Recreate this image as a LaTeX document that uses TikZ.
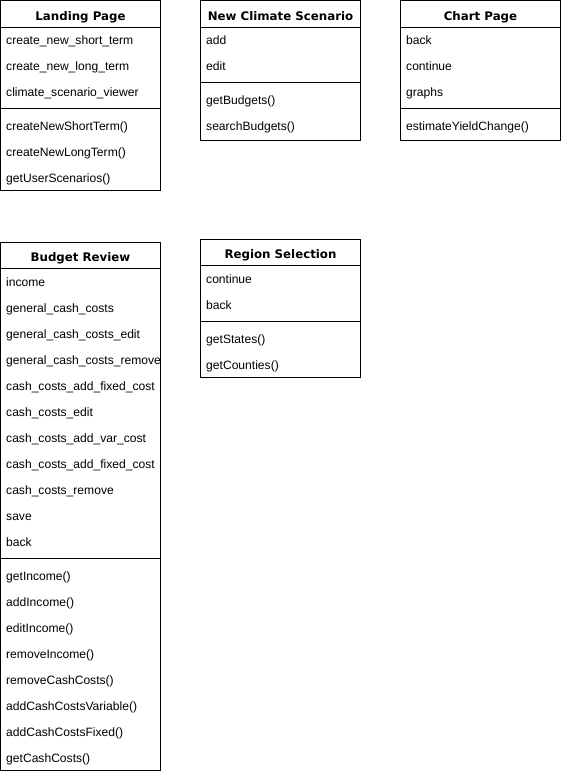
\documentclass[tikz,border=0pt]{standalone}
\usepackage{fontspec}
\setmainfont{Liberation Sans}
\newfontfamily\titlefont{DejaVu Sans}
\begin{document}
\begin{tikzpicture}[x=1pt,y=-1pt,
  box/.style={draw=black,line width=1pt,fill=white,anchor=north west,minimum width=160pt,inner sep=0pt,outer sep=0pt},
  sep/.style={line width=1pt},
  txt/.style={anchor=base west,inner sep=0pt,font=\fontsize{12.1}{14}\selectfont},
  ttl/.style={anchor=base,inner sep=0pt,font=\titlefont\bfseries\fontsize{11.8}{14}\selectfont}]
\useasboundingbox (0,0) rectangle (561,774);
% Landing Page
\node[box,minimum height=190pt] (lp) at (0.5,0.5) {};
\draw[sep] (0.5,27) coordinate (lpa) -- (160.5,27) coordinate (lpb);
\draw[sep] (0.5,108) coordinate (lpc) -- (160.5,108) coordinate (lpd);
\node[ttl] (lpt) at (80.5,20) {Landing Page};
\node[txt] (lp1) at (6,44.5) {create\_new\_short\_term};
\node[txt] (lp2) at (6,70.5) {create\_new\_long\_term};
\node[txt] (lp3) at (6,96.5) {climate\_scenario\_viewer};
\node[txt] (lp4) at (6,130.5) {createNewShortTerm()};
\node[txt] (lp5) at (6,156.5) {createNewLongTerm()};
\node[txt] (lp6) at (6,182.5) {getUserScenarios()};
% New Climate Scenario
\node[box,minimum height=140pt] (nc) at (200.5,0.5) {};
\draw[sep] (200.5,27) coordinate (nca) -- (360.5,27) coordinate (ncb);
\draw[sep] (200.5,82) coordinate (ncc) -- (360.5,82) coordinate (ncd);
\node[ttl] (nct) at (280.5,20) {New Climate Scenario};
\node[txt] (nc1) at (206,44.5) {add};
\node[txt] (nc2) at (206,70.5) {edit};
\node[txt] (nc3) at (206,104.5) {getBudgets()};
\node[txt] (nc4) at (206,130.5) {searchBudgets()};
% Chart Page
\node[box,minimum height=140pt] (cp) at (400.5,0.5) {};
\draw[sep] (400.5,27) coordinate (cpa) -- (560.5,27) coordinate (cpb);
\draw[sep] (400.5,108) coordinate (cpc) -- (560.5,108) coordinate (cpd);
\node[ttl] (cpt) at (480.5,20) {Chart Page};
\node[txt] (cp1) at (406,44.5) {back};
\node[txt] (cp2) at (406,70.5) {continue};
\node[txt] (cp3) at (406,96.5) {graphs};
\node[txt] (cp4) at (406,130.5) {estimateYieldChange()};
% Budget Review
\node[box,minimum height=528pt] (br) at (0.5,242) {};
\draw[sep] (0.5,268) coordinate (bra) -- (160.5,268) coordinate (brb);
\draw[sep] (0.5,558) coordinate (brc) -- (160.5,558) coordinate (brd);
\node[ttl] (brt) at (80.5,261.5) {Budget Review};
\begin{scope}
\clip (0,242) rectangle (159.5,770);
\node[txt] (br1) at (6,286.5) {income};
\node[txt] (br2) at (6,312.5) {general\_cash\_costs};
\node[txt] (br3) at (6,338.5) {general\_cash\_costs\_edit};
\node[txt] (br4) at (6,364.5) {general\_cash\_costs\_remove};
\node[txt] (br5) at (6,390.5) {cash\_costs\_add\_fixed\_cost};
\node[txt] (br6) at (6,416.5) {cash\_costs\_edit};
\node[txt] (br7) at (6,442.5) {cash\_costs\_add\_var\_cost};
\node[txt] (br8) at (6,468.5) {cash\_costs\_add\_fixed\_cost};
\node[txt] (br9) at (6,494.5) {cash\_costs\_remove};
\node[txt] (br10) at (6,520.5) {save};
\node[txt] (br11) at (6,546.5) {back};
\end{scope}
\node[txt] (bm1) at (6,580.5) {getIncome()};
\node[txt] (bm2) at (6,606.5) {addIncome()};
\node[txt] (bm3) at (6,632.5) {editIncome()};
\node[txt] (bm4) at (6,658.5) {removeIncome()};
\node[txt] (bm5) at (6,684.5) {removeCashCosts()};
\node[txt] (bm6) at (6,710.5) {addCashCostsVariable()};
\node[txt] (bm7) at (6,736.5) {addCashCostsFixed()};
\node[txt] (bm8) at (6,762.5) {getCashCosts()};
% Region Selection
\node[box,minimum height=138pt] (rs) at (200.5,239) {};
\draw[sep] (200.5,265) coordinate (rsa) -- (360.5,265) coordinate (rsb);
\draw[sep] (200.5,321) coordinate (rsc) -- (360.5,321) coordinate (rsd);
\node[ttl] (rst) at (280.5,258.5) {Region Selection};
\node[txt] (rs1) at (206,283.5) {continue};
\node[txt] (rs2) at (206,309.5) {back};
\node[txt] (rs3) at (206,343.5) {getStates()};
\node[txt] (rs4) at (206,369.5) {getCounties()};
\end{tikzpicture}
\end{document}
